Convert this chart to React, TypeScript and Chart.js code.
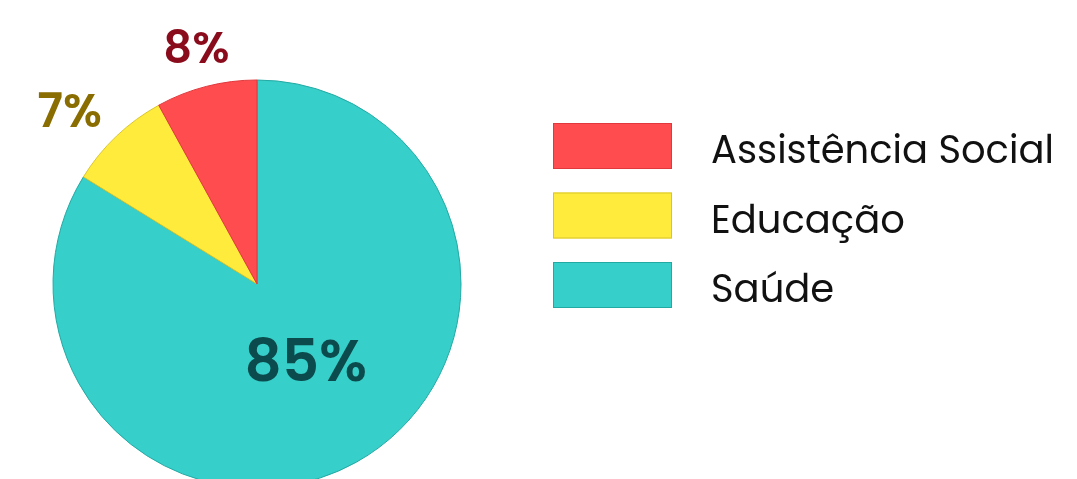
import React, { useEffect, useRef } from "react";
import { Chart, registerables } from "chart.js";

Chart.register(...registerables);

// Data (drawing order clockwise from top)
const categories = ["Saúde", "Educação", "Assistência Social"];
const values = [83.8, 8.2, 8.0];
const valueLabels = ["85%", "7%", "8%"];
const sliceColors = ["#36CFC9", "#FFEB3B", "#FF4D4F"];
const sliceBorders = ["#23A9A4", "#D9C52A", "#E0383C"];
const labelColors = ["#0B4B4D", "#8A6D00", "#8A0C1C"];
// legend order (top to bottom) = reverse of drawing order
const legendOrder = [2, 1, 0];

const FONT = "Poppins, 'Open Sans', 'Noto Sans', sans-serif";

// label placement: distance from centre (fraction of radius), angle tweak (deg), font size
const labelDist = [0.446, 1.25, 1.196];
const labelAngleShift = [-3.3, -3.7, 0];
const labelSize = [58, 47, 45];

const labelPlugin = {
  id: "sliceLabels",
  afterDatasetsDraw(chart: any) {
    const ctx = chart.ctx;
    const meta = chart.getDatasetMeta(0);
    meta.data.forEach((arc: any, i: number) => {
      const { x, y, startAngle, endAngle, outerRadius } = arc.getProps(
        ["x", "y", "startAngle", "endAngle", "outerRadius"],
        true
      );
      const mid = (startAngle + endAngle) / 2 + (labelAngleShift[i] * Math.PI) / 180;
      const dist = outerRadius * labelDist[i];
      const lx = x + Math.cos(mid) * dist;
      const ly = y + Math.sin(mid) * dist;
      const size = labelSize[i];
      ctx.save();
      ctx.fillStyle = labelColors[i];
      ctx.font = `600 ${size}px ${FONT}`;
      ctx.textAlign = "center";
      ctx.textBaseline = "alphabetic";
      ctx.fillText(valueLabels[i], lx, ly + size * 0.35);
      ctx.restore();
    });
  },
};

const legendPlugin = {
  id: "sideLegend",
  afterDraw(chart: any) {
    const ctx = chart.ctx;
    const boxX = 553;
    const boxW = 119;
    const boxH = 46;
    const firstY = 123;
    const step = 69.5;
    const textX = 711;
    legendOrder.forEach((idx, row) => {
      const y = firstY + row * step;
      ctx.save();
      ctx.fillStyle = sliceColors[idx];
      ctx.fillRect(boxX, y, boxW, boxH);
      ctx.strokeStyle = sliceBorders[idx];
      ctx.lineWidth = 1;
      ctx.strokeRect(boxX + 0.5, y + 0.5, boxW - 1, boxH - 1);
      ctx.fillStyle = "#111111";
      ctx.font = `38.5px ${FONT}`;
      ctx.textAlign = "left";
      ctx.textBaseline = "alphabetic";
      ctx.fillText(chart.data.labels[idx], textX, y + 40);
      ctx.restore();
    });
  },
};

export default function App() {
  const canvasRef = useRef<HTMLCanvasElement | null>(null);

  useEffect(() => {
    if (!canvasRef.current) return;
    const chart = new Chart(canvasRef.current, {
      type: "pie",
      data: {
        labels: categories,
        datasets: [
          {
            data: values,
            backgroundColor: sliceColors,
            borderColor: sliceBorders,
            borderWidth: 1,
          },
        ],
      },
      options: {
        responsive: false,
        animation: false,
        radius: 204,
        layout: { padding: { left: 0, right: 563, top: 0, bottom: 0 } },
        plugins: {
          legend: { display: false },
          tooltip: { enabled: false },
        },
      } as any,
      plugins: [labelPlugin, legendPlugin],
    });
    return () => chart.destroy();
  }, []);

  return (
    <div
      style={{
        position: "absolute",
        left: 0,
        top: 0,
        width: 1077,
        height: 479,
        overflow: "hidden",
        background: "#ffffff",
      }}
    >
      <canvas ref={canvasRef} width={1077} height={568} style={{ display: "block" }} />
    </div>
  );
}
